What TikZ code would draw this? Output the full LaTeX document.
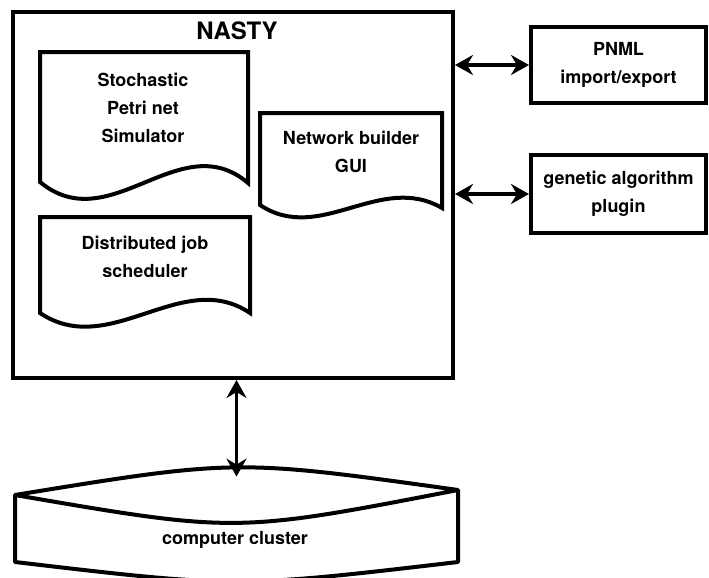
\documentclass[tikz,border=0pt]{standalone}
\usepackage{fontspec}
\setmainfont{TeX Gyre Heros}
\usetikzlibrary{arrows.meta}
\begin{document}
\begin{tikzpicture}[x=0.5pt,y=-0.5pt,
  box/.style={draw,line width=2pt,inner sep=0pt},
  shapeline/.style={line width=2pt,line join=miter},
  cylline/.style={line width=2pt,line join=round},
  txt/.style={font=\bfseries\fontsize{9}{14}\selectfont,align=center,inner sep=0pt},
  both/.style={line width=1.7pt,{Stealth[length=9pt,width=10pt,inset=3pt]}-{Stealth[length=9pt,width=10pt,inset=3pt]}}]
\useasboundingbox (0,0) rectangle (709,578);
% NASTY container
\node[box,minimum width=220pt,minimum height=183pt] (nasty) at (233,195) {};
\node[font=\bfseries\fontsize{12}{14}\selectfont,inner sep=0pt] (title) at (237,31) {NASTY};
% document shapes
\node[txt] (sim) at (143,108) {Stochastic\\Petri net\\Simulator};
\draw[shapeline] (40,182) -- (40,52) -- (248,52) -- (248,183)
  .. controls (180,125) and (110,240) .. (40,182) -- cycle;
\node[txt] (gui) at (351,152) {Network builder\\GUI};
\draw[shapeline] (260,205) -- (260,113) -- (442,113) -- (442,208)
  .. controls (380,172) and (320,245) .. (260,205) -- cycle;
\node[txt] (sched) at (145,257) {Distributed job\\scheduler};
\draw[shapeline] (40,313) -- (40,217) -- (250,217) -- (250,313)
  .. controls (182,267) and (110,360) .. (40,313) -- cycle;
% right boxes
\node[box,minimum width=87.5pt,minimum height=38pt,txt] (pnml) at (618.5,65) {PNML\\import/export};
\node[box,minimum width=87.5pt,minimum height=39pt,txt] (ga) at (618.5,194) {genetic algorithm\\plugin};
% cluster (cylinder)
\node[minimum width=221.5pt,minimum height=49pt,inner sep=0pt] (cluster) at (236.5,526) {};
\draw[cylline] (15,495) .. controls (236,459) .. (458,490)
  .. controls (236,533) .. (15,495) -- cycle;
\draw[cylline] (15,495) -- (15,562) .. controls (236,588) .. (458,562) -- (458,490);
\node[txt] (cl) at (235,540) {computer cluster};
% connectors
\draw[both] (nasty.east |- pnml.west) -- (pnml.west);
\draw[both] (nasty.east |- ga.west) -- (ga.west);
\draw[both] (cluster.north |- nasty.south) -- (cluster.north);
\end{tikzpicture}
\end{document}
